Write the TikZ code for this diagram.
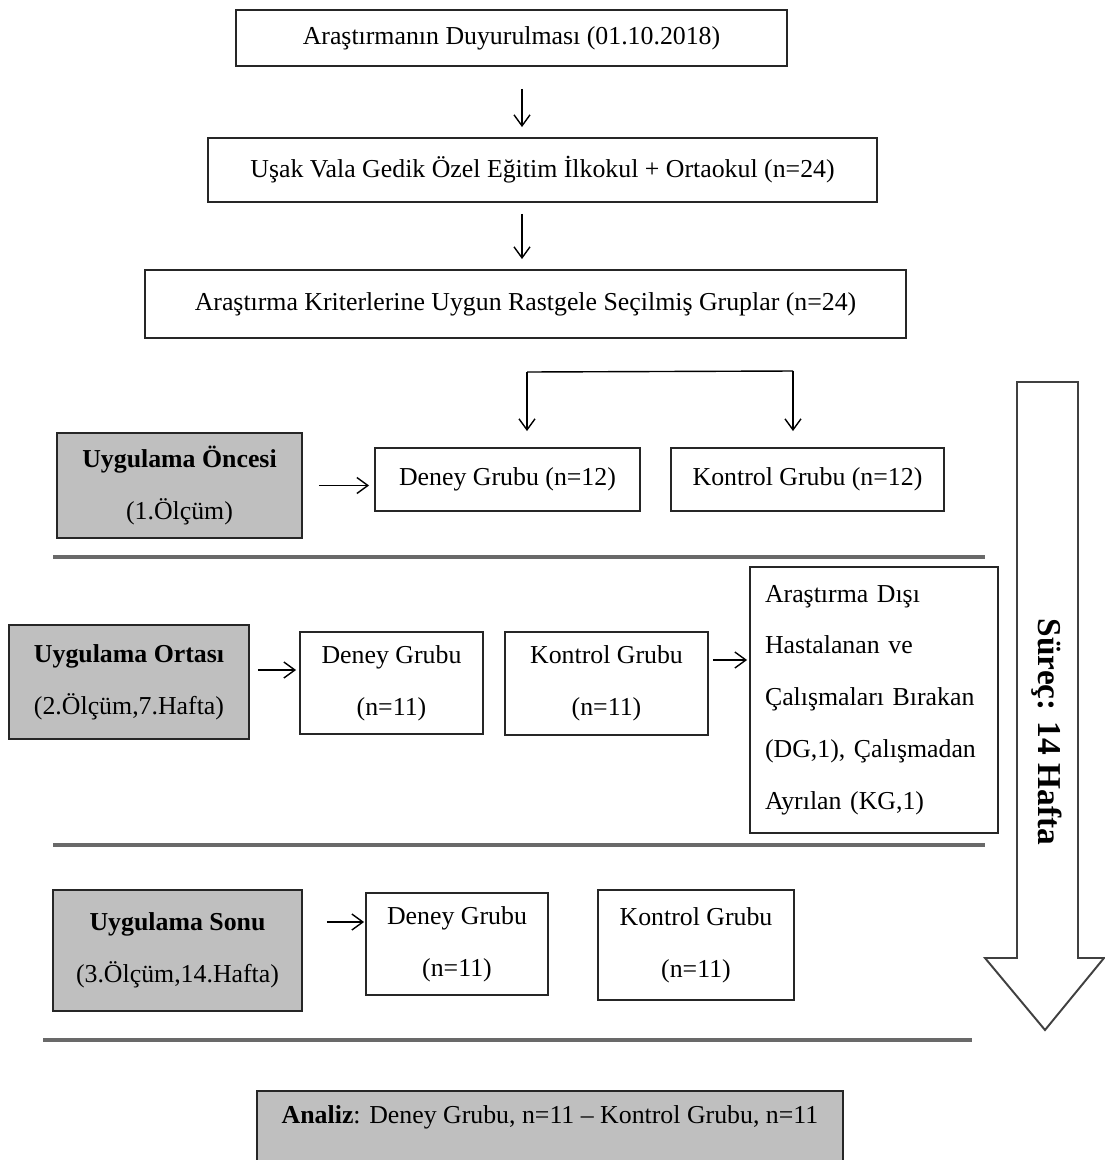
\documentclass[tikz,border=0pt]{standalone}
\usepackage{fontspec}
\setmainfont{Liberation Serif}
\usetikzlibrary{arrows.meta}
\definecolor{boxgray}{RGB}{191,191,191}
\definecolor{rulegray}{RGB}{105,105,105}
\begin{document}
\begin{tikzpicture}[x=0.02cm,y=-0.02cm,
        font=\fontsize{14.7}{29.5}\selectfont,
        box/.style={draw=black!85,line width=1.1pt,inner sep=0pt,align=center},
        graybox/.style={box,fill=boxgray},
        arr/.style={-{Straight Barb[length=2.2mm,width=3.2mm]},line width=0.8pt},
        sep/.style={draw=rulegray,line width=2pt}]
    \useasboundingbox (0,0) rectangle (1105,1160);
    \node[box,minimum width=11.02cm,minimum height=1.12cm] (duyuru) at (511.5,38)
        {Araştırmanın Duyurulması (01.10.2018)};
    \node[box,minimum width=13.38cm,minimum height=1.28cm] (okul) at (542.5,170)
        {Uşak Vala Gedik Özel Eğitim İlkokul + Ortaokul (n=24)};
    \node[box,minimum width=15.22cm,minimum height=1.36cm] (secilmis) at (525.5,304)
        {Araştırma Kriterlerine Uygun Rastgele Seçilmiş Gruplar (n=24)};
    \coordinate (axis) at (522,0);
    \draw[arr,shorten <=0.44cm,shorten >=0.2cm] (duyuru.south -| axis) -- (okul.north -| axis);
    \draw[arr,shorten <=0.22cm,shorten >=0.2cm] (okul.south -| axis) -- (secilmis.north -| axis);

    \node[graybox,minimum width=4.9cm,minimum height=2.1cm] (oncesi) at (179.5,485.5)
        {\textbf{Uygulama Öncesi}\\(1.Ölçüm)};
    \node[box,minimum width=5.3cm,minimum height=1.26cm] (deneyA) at (507.5,479.5)
        {Deney Grubu (n=12)};
    \node[box,minimum width=5.46cm,minimum height=1.26cm] (kontrolA) at (807.5,479.5)
        {Kontrol Grubu (n=12)};
    \coordinate (splitL) at (527,372);
    \coordinate (splitR) at (793,371);
    \draw[line width=0.8pt] (splitL) -- (splitR);
    \draw[arr,shorten >=0.32cm] (splitL) -- (splitL |- deneyA.north);
    \draw[arr,shorten >=0.32cm] (splitR) -- (splitR |- kontrolA.north);
    \draw[arr,shorten <=0.32cm,shorten >=0.1cm] (oncesi.east) -- (oncesi.east -| deneyA.west);
    \draw[sep] (53,557) -- (985,557);

    \node[graybox,minimum width=4.8cm,minimum height=2.28cm] (ortasi) at (129,682)
        {\textbf{Uygulama Ortası}\\(2.Ölçüm,7.Hafta)};
    \node[box,minimum width=3.66cm,minimum height=2.04cm] (deneyB) at (391.5,683)
        {Deney Grubu\\(n=11)};
    \node[box,minimum width=4.06cm,minimum height=2.06cm] (kontrolB) at (606.5,683.5)
        {Kontrol Grubu\\(n=11)};
    \node[box,align=left,inner xsep=0.3cm,text width=4.36cm,minimum height=5.32cm] (ayrilan) at (874,700)
        {Araştırma Dışı\\Hastalanan ve\\Çalışmaları Bırakan\\(DG,1), Çalışmadan\\Ayrılan (KG,1)};
    \draw[arr,shorten <=0.16cm,shorten >=0.06cm] ([yshift=0.24cm]ortasi.east) -- ([yshift=0.24cm]ortasi.east -| deneyB.west);
    \draw[arr,shorten <=0.08cm,shorten >=0.04cm] ([yshift=0.47cm]kontrolB.east) -- ([yshift=0.47cm]kontrolB.east -| ayrilan.west);
    \draw[sep] (53,845) -- (985,845);

    \node[graybox,minimum width=4.98cm,minimum height=2.42cm] (sonu) at (177.5,950.5)
        {\textbf{Uygulama Sonu}\\(3.Ölçüm,14.Hafta)};
    \node[box,minimum width=3.64cm,minimum height=2.04cm] (deneyC) at (457,944)
        {Deney Grubu\\(n=11)};
    \node[box,minimum width=3.92cm,minimum height=2.2cm] (kontrolC) at (696,945)
        {Kontrol Grubu\\(n=11)};
    \draw[arr,shorten <=0.48cm,shorten >=0.02cm] ([yshift=0.44cm]deneyC.west -| sonu.east) -- ([yshift=0.44cm]deneyC.west);
    \draw[sep] (43,1040) -- (972,1040);

    \node[graybox,anchor=north,minimum width=11.72cm,text height=18.7pt,text depth=21pt] (analiz) at (550,1090)
        {\textbf{Analiz}: Deney Grubu, n=11 – Kontrol Grubu, n=11};

    \draw[draw=black!75,line width=1.1pt] (1017,382) -- (1078,382) -- (1078,958) -- (1104,958)
        -- (1045,1030) -- (985,958) -- (1017,958) -- cycle;
    \node[rotate=-90,font=\bfseries\fontsize{19}{19}\selectfont] (surec) at (1047,732) {Süreç: 14 Hafta};
\end{tikzpicture}
\end{document}
